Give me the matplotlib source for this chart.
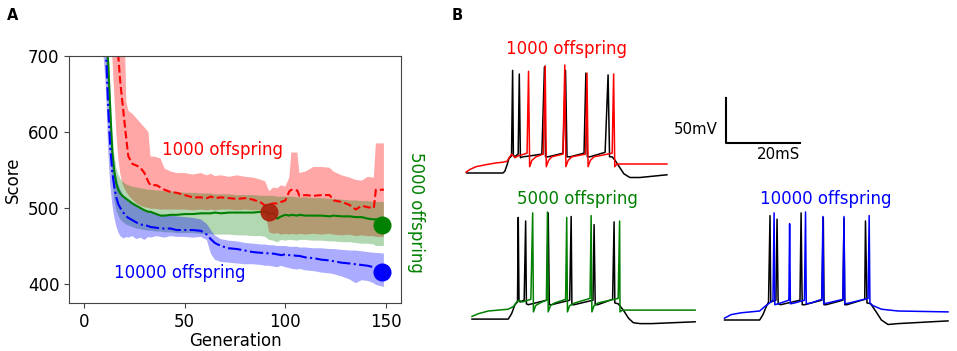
import matplotlib
matplotlib.use('Agg')
import matplotlib.pyplot as plt

# ---------------- panel A : score vs generation ----------------
generation = [0, 5, 9, 10, 11, 12, 13, 14, 15, 16,
              17, 18, 19, 20, 21, 22, 24, 26, 28, 30,
              32, 33, 36, 38, 40, 43, 46, 50, 54, 58,
              61, 63, 65, 68, 72, 76, 80, 84, 88, 90,
              92, 94, 96, 98, 100, 102, 103, 106, 107, 110,
              114, 118, 122, 124, 128, 132, 135, 138, 141, 144,
              145, 149]

red_mean = [1400, 1150, 950, 910, 870, 840, 810, 780, 750, 725,
            700, 665, 640, 615, 590, 568, 558, 556, 553, 546,
            534, 530, 530, 527, 524, 521, 520, 517, 514, 514,
            513, 515, 513, 514, 513, 512, 513, 511, 507, 503,
            505, 506, 506, 508, 510, 522, 524, 523, 516, 517,
            516, 517, 517, 510, 508, 504, 498, 503, 501, 500,
            524, 524]
red_high = [1700, 1450, 1200, 1150, 1100, 1050, 1000, 950, 900, 860,
            820, 790, 770, 750, 640, 628, 624, 618, 612, 606,
            600, 568, 567, 565, 552, 548, 546, 546, 544, 546,
            543, 545, 542, 543, 541, 543, 541, 540, 537, 535,
            522, 527, 526, 530, 528, 540, 573, 573, 546, 548,
            554, 554, 553, 548, 543, 540, 537, 536, 541, 540,
            585, 585]
red_low = [1150, 950, 820, 790, 760, 740, 720, 700, 650, 600,
           565, 545, 533, 526, 521, 517, 511, 506, 503, 501,
           500, 499, 499, 498, 498, 498, 498, 498, 497, 498,
           497, 498, 497, 498, 498, 497, 498, 497, 497, 495,
           468, 466, 467, 465, 466, 465, 466, 465, 466, 465,
           466, 465, 466, 465, 464, 465, 463, 464, 463, 463,
           462, 462]

green_mean = [1300, 1000, 820, 770, 730, 690, 630, 575, 548, 532,
              524, 519, 516, 514, 512, 510, 506, 503, 500, 497,
              495, 495, 492, 490, 490, 491, 491, 492, 492, 493,
              493, 493, 494, 493, 494, 494, 494, 494, 495, 495,
              492, 494, 486, 489, 491, 490, 491, 490, 491, 490,
              490, 490, 489, 490, 489, 489, 488, 488, 486, 485,
              485, 484]
green_high = [1500, 1150, 900, 830, 770, 720, 660, 600, 570, 553,
              544, 539, 535, 533, 531, 530, 528, 527, 526, 525,
              524, 524, 523, 523, 522, 522, 521, 520, 520, 519,
              519, 519, 518, 518, 518, 517, 517, 517, 516, 516,
              516, 516, 515, 515, 515, 515, 515, 514, 514, 514,
              513, 513, 512, 512, 511, 510, 510, 509, 509, 508,
              508, 508]
green_low = [1150, 880, 760, 720, 690, 650, 590, 540, 510, 497,
             490, 485, 482, 480, 478, 477, 475, 473, 472, 471,
             470, 470, 469, 469, 468, 468, 467, 467, 467, 466,
             466, 466, 465, 465, 465, 464, 464, 463, 463, 462,
             458, 457, 455, 458, 457, 458, 458, 457, 458, 458,
             457, 457, 456, 456, 455, 455, 454, 453, 453, 452,
             450, 450]

blue_mean = [1300, 950, 780, 740, 700, 630, 580, 548, 528, 514,
             505, 500, 496, 492, 489, 487, 484, 481, 478, 478,
             476, 475, 474, 473, 473, 473, 471, 471, 471, 470,
             465, 459, 454, 450, 447, 446, 444, 442, 441, 441,
             440, 440, 439, 438, 439, 438, 438, 437, 437, 435,
             434, 432, 431, 430, 428, 427, 426, 425, 424, 422,
             421, 419]
blue_high = [1500, 1100, 860, 800, 740, 680, 625, 585, 558, 542,
             531, 524, 519, 515, 512, 510, 506, 503, 500, 497,
             495, 494, 492, 491, 491, 490, 489, 488, 487, 485,
             479, 471, 464, 459, 457, 456, 454, 453, 452, 452,
             451, 451, 450, 450, 450, 449, 449, 449, 448, 448,
             447, 447, 446, 446, 445, 444, 444, 443, 442, 441,
             441, 440]
blue_low = [1100, 820, 720, 690, 650, 575, 530, 505, 488, 476,
            468, 463, 461, 460, 462, 461, 463, 459, 461, 458,
            462, 461, 463, 462, 461, 463, 462, 462, 461, 462,
            458, 440, 432, 429, 428, 427, 426, 426, 425, 424,
            424, 423, 422, 424, 422, 421, 420, 419, 420, 418,
            417, 415, 414, 413, 410, 406, 401, 405, 404, 401,
            399, 396]

best_gen = [92, 148, 148]
best_score = [495, 478, 416]

# ---------------- panel B : voltage traces (ms, mV) ----------------
top_t_black = [0.2, 10.0, 10.5, 11.1, 11.6, 12.3, 12.6, 12.8, 13.1, 14.1,
               14.4, 14.7, 15.4, 17.3, 20.5, 21.2, 21.5, 22.2, 26.2, 26.9,
               27.3, 28.1, 31.9, 32.4, 32.8, 33.5, 37.6, 38.4, 38.8, 39.5,
               40.3, 41.4, 42.7, 44.3, 47.0, 54.3]
top_v_black = [-80, -80, -78, -71, -64, -61, 34, -60, -62, -59,
               30, -63, -62, -61, -59, 38, -62, -62, -58, 34,
               -62, -62, -58, 31, -62, -62, -57, 29, -62, -62,
               -66, -73, -81, -85, -85, -82]
top_t_red = [0, 1.1, 2.7, 5.1, 7.8, 10.0, 11.1, 11.8, 12.4, 13.2,
             14.1, 16.5, 16.9, 17.2, 17.8, 18.9, 20.9, 21.4, 21.7, 22.3,
             23.2, 26.2, 26.7, 27.0, 27.6, 28.6, 32.3, 32.7, 33.0, 33.6,
             34.6, 39.5, 39.9, 40.2, 40.8, 43.0, 54.3]
top_v_red = [-79, -76, -73, -71, -69, -68, -67, -62, -59, -63,
             -61, -58, 33, -73, -66, -62, -59, 39, -73, -66,
             -62, -59, 40, -73, -66, -62, -59, 31, -73, -66,
             -62, -58, 30, -73, -70, -70, -70]

bl_t_black = [0, 9.8, 10.7, 11.6, 12.3, 12.5, 12.7, 13.0, 14.1, 14.5,
              14.7, 15.2, 20.2, 20.6, 20.9, 21.5, 26.4, 26.8, 27.0, 27.6,
              32.7, 33.0, 33.3, 34.0, 38.0, 38.4, 38.6, 39.5, 40.9, 42.3,
              43.6, 45.4, 48.6, 60.3]
bl_v_black = [-79, -79, -73, -63, -60, 34, -58, -60, -58, 30,
              -62, -63, -58, 39, -63, -63, -58, 35, -63, -63,
              -58, 26, -63, -63, -57, 29, -61, -62, -69, -78,
              -83, -84, -84, -82]
bl_t_green = [0, 1.7, 4.4, 9.8, 11.2, 12.1, 12.7, 13.6, 15.9, 16.4,
              16.6, 17.2, 18.4, 20.1, 20.4, 20.6, 21.2, 22.4, 25.3, 25.6,
              25.8, 26.4, 27.8, 31.9, 32.2, 32.4, 33.0, 34.1, 39.5, 39.9,
              40.0, 40.6, 43.2, 60.3]
bl_v_green = [-76, -73, -70, -68, -65, -60, -58, -60, -57, 39,
              -71, -64, -61, -58, 40, -71, -64, -61, -57, 34,
              -71, -64, -61, -56, 36, -71, -64, -61, -56, 30,
              -71, -69, -69, -69]

br_t_black = [0, 9.5, 10.4, 11.3, 11.9, 12.3, 12.5, 13.9, 14.2, 14.5,
              15.2, 20.4, 20.7, 21.0, 21.7, 26.3, 26.7, 26.9, 27.5, 32.0,
              32.3, 32.5, 33.1, 37.9, 38.1, 38.5, 39.5, 41.0, 42.4, 44.2,
              46.9, 60.4]
br_v_black = [-80, -80, -74, -65, -60, 36, -60, -58, 32, -62,
              -63, -58, 39, -63, -63, -58, 34, -63, -63, -58,
              33, -63, -63, -57, 30, -61, -62, -71, -80, -85,
              -84, -81]
br_t_blue = [0, 1.8, 4.5, 9.5, 10.9, 12.2, 13.1, 13.4, 13.6, 14.5,
             17.4, 17.6, 17.8, 19.0, 21.6, 21.9, 22.1, 23.4, 26.3, 26.6,
             26.8, 28.0, 32.0, 32.3, 32.5, 33.8, 38.8, 39.1, 39.3, 40.1,
             42.4, 46.9, 60.4]
br_v_blue = [-78, -74, -72, -70, -65, -61, -58, 39, -63, -62,
             -58, 27, -62, -61, -58, 40, -62, -61, -57, 35,
             -62, -61, -57, 35, -62, -61, -56, 36, -61, -64,
             -68, -70, -71]

scalebar_ms = 20
scalebar_mv = 50

W, H = 957, 351


def box(left, top, width, height):
	# pixel box -> figure fraction
	return [left / W, 1 - (top + height) / H, width / W, height / H]


fig = plt.figure(figsize=(W / 100, H / 100), dpi=100)

# ----- panel A -----
ax = fig.add_axes(box(69, 56, 332, 247))
ax.fill_between(generation, red_low, red_high, color='red', alpha=0.35, linewidth=0)
ax.fill_between(generation, green_low, green_high, color='green', alpha=0.3, linewidth=0)
ax.fill_between(generation, blue_low, blue_high, color='blue', alpha=0.33, linewidth=0)
ax.plot(generation, red_mean, color='red', linestyle='--', linewidth=1.5)
ax.plot(generation, green_mean, color='green', linestyle='-', linewidth=1.5)
ax.plot(generation, blue_mean, color='blue', linestyle='-.', linewidth=1.5)
ax.plot(best_gen[0], best_score[0], 'o', color='#a91f0c', markersize=12, alpha=0.9)
ax.plot(best_gen[1], best_score[1], 'o', color='green', markersize=12, clip_on=False)
ax.plot(best_gen[2], best_score[2], 'o', color='blue', markersize=12, clip_on=False)
ax.set_xlim(-7.5, 157.5)
ax.set_ylim(375, 700)
ax.set_xticks([0, 50, 100, 150])
ax.set_yticks([400, 500, 600, 700])
ax.tick_params(labelsize=12, color='#444444')
for sp in ax.spines.values():
	sp.set_color('#444444')
ax.set_xlabel('Generation', fontsize=12, labelpad=1)
ax.set_ylabel('Score', fontsize=12)
ax.text(69, 576, '1000 offspring', color='red', fontsize=12, ha='center', va='center')
ax.text(47.7, 414, '10000 offspring', color='blue', fontsize=12, ha='center', va='center')
fig.text(416 / W, 1 - 212 / H, '5000 offspring', color='green', fontsize=12,
         rotation=270, ha='center', va='center')

# ----- panel B -----
ylim_b = (-90, 46)
ax_top = fig.add_axes(box(466, 182 - 136 * 0.9, 54.3 * 3.7, 136 * 0.9))
ax_top.plot(top_t_black, top_v_black, color='black', linewidth=1.1, clip_on=False)
ax_top.plot(top_t_red, top_v_red, color='red', linewidth=1.1, clip_on=False)
ax_top.set_xlim(0, 54.3)
ax_top.set_ylim(*ylim_b)

# scale bar drawn in the top trace's data units
sb_t, sb_v = 70.3, -46.7
ax_top.plot([sb_t, sb_t, sb_t + scalebar_ms], [sb_v + scalebar_mv, sb_v, sb_v],
            color='black', linewidth=1.5, clip_on=False)
ax_top.axis('off')

ax_bl = fig.add_axes(box(472, 329 - 136 * 0.9, 60.4 * 3.7, 136 * 0.9))
ax_bl.plot(bl_t_black, bl_v_black, color='black', linewidth=1.1, clip_on=False)
ax_bl.plot(bl_t_green, bl_v_green, color='green', linewidth=1.1, clip_on=False)
ax_bl.set_xlim(0, 60.4)
ax_bl.set_ylim(*ylim_b)
ax_bl.axis('off')

ax_br = fig.add_axes(box(724.5, 329 - 136 * 0.9, 60.4 * 3.7, 136 * 0.9))
ax_br.plot(br_t_black, br_v_black, color='black', linewidth=1.1, clip_on=False)
ax_br.plot(br_t_blue, br_v_blue, color='blue', linewidth=1.1, clip_on=False)
ax_br.set_xlim(0, 60.4)
ax_br.set_ylim(*ylim_b)
ax_br.axis('off')

fig.text(567 / W, 1 - 49 / H, '1000 offspring', color='red', fontsize=12, ha='center', va='center')
fig.text(577 / W, 1 - 199 / H, '5000 offspring', color='green', fontsize=12, ha='center', va='center')
fig.text(826 / W, 1 - 199 / H, '10000 offspring', color='blue', fontsize=12, ha='center', va='center')
fig.text(718 / W, 1 - 129 / H, '50mV', fontsize=10.8, ha='right', va='center')
fig.text(779 / W, 1 - 154 / H, '20mS', fontsize=10.8, ha='center', va='center')

fig.text(7 / W, 1 - 15 / H, 'A', fontsize=10.5, fontweight='bold', ha='left', va='center')
fig.text(452 / W, 1 - 15 / H, 'B', fontsize=10.5, fontweight='bold', ha='left', va='center')

fig.savefig('out.png', dpi=100)
